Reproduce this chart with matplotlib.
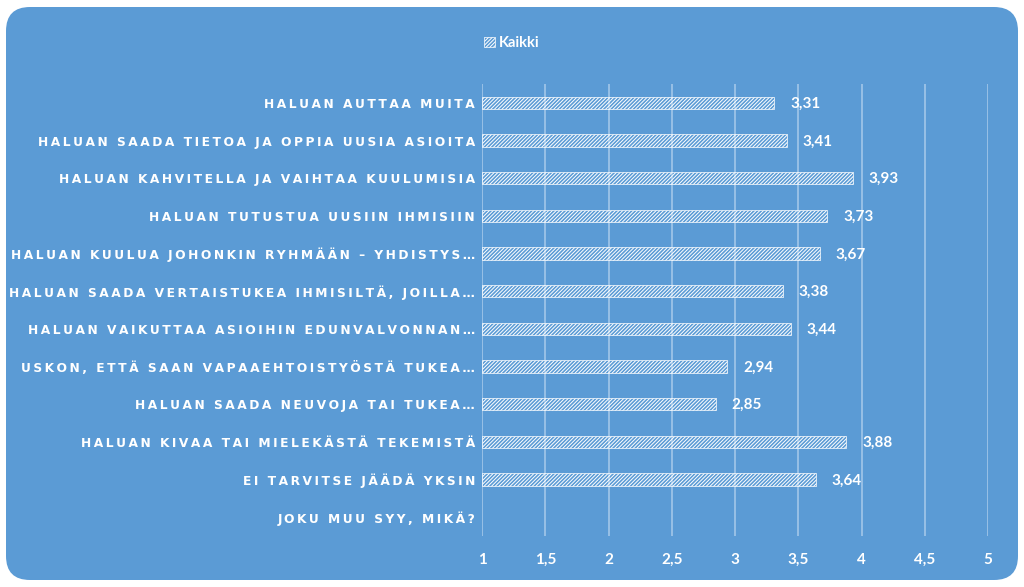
import numpy as np
import matplotlib
matplotlib.use("Agg")
import matplotlib.pyplot as plt
from matplotlib.patches import FancyBboxPatch, Patch

plt.rcParams['hatch.color'] = 'white'
plt.rcParams['hatch.linewidth'] = 0.7

categories = [
    "HALUAN AUTTAA MUITA",
    "HALUAN SAADA TIETOA JA OPPIA UUSIA ASIOITA",
    "HALUAN KAHVITELLA JA VAIHTAA KUULUMISIA",
    "HALUAN TUTUSTUA UUSIIN IHMISIIN",
    "HALUAN KUULUA JOHONKIN RYHMÄÄN – YHDISTYS…",
    "HALUAN SAADA VERTAISTUKEA IHMISILTÄ, JOILLA…",
    "HALUAN VAIKUTTAA ASIOIHIN EDUNVALVONNAN…",
    "USKON, ETTÄ SAAN VAPAAEHTOISTYÖSTÄ TUKEA…",
    "HALUAN SAADA NEUVOJA TAI TUKEA…",
    "HALUAN KIVAA TAI MIELEKÄSTÄ TEKEMISTÄ",
    "EI TARVITSE JÄÄDÄ YKSIN",
    "JOKU MUU SYY, MIKÄ?",
]
values = [3.31, 3.41, 3.93, 3.73, 3.67, 3.38, 3.44, 2.94, 2.85, 3.88, 3.64, np.nan]
ticks = [1, 1.5, 2, 2.5, 3, 3.5, 4, 4.5, 5]
tick_labels = ["1", "1,5", "2", "2,5", "3", "3,5", "4", "4,5", "5"]
series_name = "Kaikki"

BG = '#5B9BD5'


def spaced(s):
    # harvennettu kirjaimisto kuten alkuperäisessä
    return '\u2009'.join(s)


fig = plt.figure(figsize=(10.24, 5.87), dpi=100)
fig.patch.set_facecolor('white')

# pyöristetty sininen tausta omaan taustakoordinaatistoon (pikseleinä)
bgax = fig.add_axes([0, 0, 1, 1], zorder=0)
bgax.set_xlim(0, 1024)
bgax.set_ylim(0, 587)
bgax.axis('off')
bgax.add_patch(FancyBboxPatch((6, 7), 1012, 573,
                              boxstyle="round,pad=0,rounding_size=24",
                              facecolor=BG, edgecolor='none'))

ax = fig.add_axes([482 / 1024, 1 - 536 / 587, (988 - 482) / 1024, (536 - 84) / 587], zorder=1)
ax.set_facecolor('none')

y = np.arange(len(categories))
vals = np.array(values)
widths = np.nan_to_num(vals - 1, nan=0.0)
bars = ax.barh(y, widths, left=1, height=0.32, facecolor='none',
               edgecolor='white', hatch='/////////', linewidth=0.5, zorder=3)
for i, v in enumerate(values):
    if np.isnan(v):
        bars[i].set_visible(False)
        continue
    ax.text(v + 0.125, i + 0.03, f"{v:.2f}".replace('.', ','), va='center', ha='left',
            color='white', fontsize=11, fontfamily='Lato', fontweight='bold')

ax.set_xlim(1, 5)
ax.set_ylim(len(categories) - 0.5, -0.5)
ax.set_xticks(ticks)
ax.set_xticklabels(tick_labels, color='white', fontsize=11,
                   fontfamily='Lato', fontweight='bold')
ax.set_yticks(y)
ax.set_yticklabels([spaced(c) for c in categories], color='white', fontsize=8.8,
                   fontfamily='DejaVu Sans', fontweight='bold')
ax.tick_params(axis='both', length=0)
ax.tick_params(axis='y', pad=5)
ax.tick_params(axis='x', pad=12)
for sp in ax.spines.values():
    sp.set_visible(False)
ax.xaxis.grid(True, color='#A9CBEA', linewidth=1.1, zorder=0)
ax.set_axisbelow(True)

leg_handle = Patch(facecolor='none', edgecolor='white', hatch='/////////', linewidth=0.5)
leg = fig.legend([leg_handle], [series_name], loc='center', bbox_to_anchor=(0.5, 1 - 43 / 587),
                 frameon=False, handlelength=0.7, handleheight=0.7, handletextpad=0.3,
                 prop={'family': 'Lato', 'weight': 'bold', 'size': 10.5})
for t in leg.get_texts():
    t.set_color('white')

fig.savefig('out.png', dpi=100, facecolor='white')
